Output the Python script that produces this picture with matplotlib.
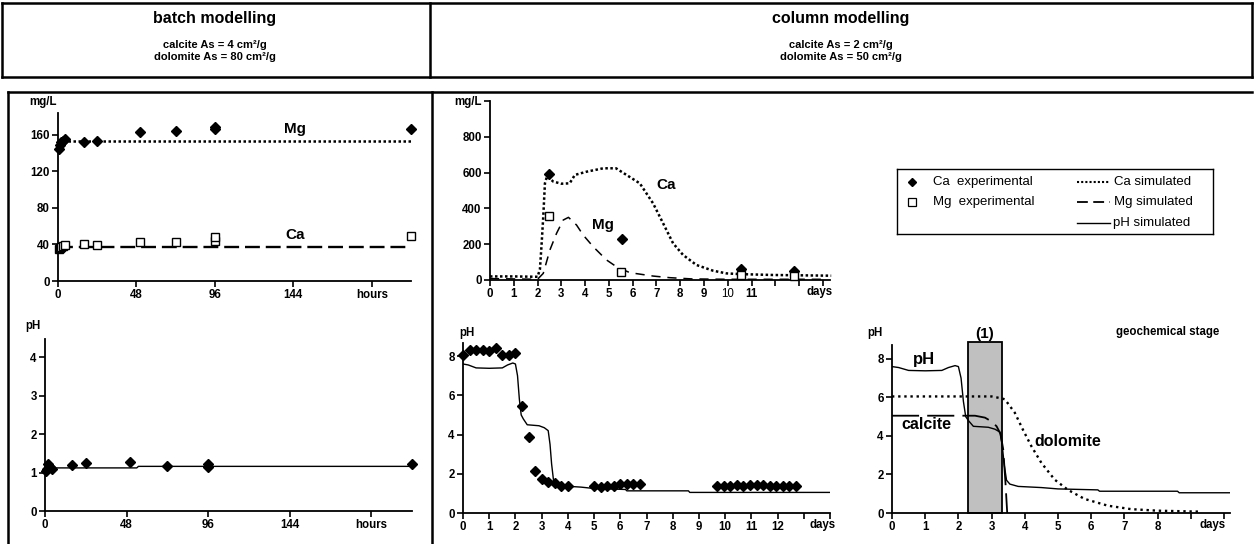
import matplotlib
matplotlib.use('Agg')
import matplotlib.pyplot as plt
from matplotlib.patches import Rectangle
from matplotlib.lines import Line2D

plt.rcParams['font.family'] = ['Liberation Sans', 'DejaVu Sans']
plt.rcParams['font.weight'] = 'bold'

# ---------------- data ----------------
# batch modelling (hours)
batch_hours = [0.5, 1, 2, 3, 4, 16, 24, 50, 72, 96, 96, 216]
batch_mg_exp = [145, 149, 152, 153, 155, 152, 153, 163, 164, 166, 169, 167]
batch_ca_exp = [35, 36, 37, 38, 39, 40, 39, 43, 43, 44, 48, 49]
batch_sim_hours = [0, 216]
batch_mg_sim = [153, 153]
batch_ca_sim = [37, 37]
batch_ph_exp = [1.03, 1.10, 1.22, 1.15, 1.10, 1.19, 1.25, 1.28, 1.17, 1.22, 1.14, 1.21]
batch_ph_sim_hours = [0, 3, 54, 55, 216]
batch_ph_sim = [1.05, 1.12, 1.12, 1.16, 1.16]
batch_x_ticks = [0, 48, 96, 144, 192]
batch_x_labels = ['0', '48', '96', '144', 'hours']
batch_conc_ticks = [0, 40, 80, 120, 160]
batch_ph_ticks = [0, 1, 2, 3, 4]

# column modelling (days)
col_ca_exp_days = [2.5, 5.55, 10.55, 12.8]
col_ca_exp = [590, 228, 60, 48]
col_mg_exp_days = [2.5, 5.5, 10.55, 12.8]
col_mg_exp = [355, 47, 30, 22]
col_ca_sim_days = [0, 1, 2.0, 2.1, 2.17, 2.24, 2.31, 2.4, 2.66, 3.0, 3.35, 3.57, 4.06,
                   4.76, 5.3, 5.74, 6.3, 6.86, 7.28, 7.7, 8.12, 8.68, 9.38, 9.94, 10.5,
                   11.9, 14.35]
col_ca_sim = [20, 20, 18, 60, 200, 354, 540, 580, 550, 538, 540, 587, 605,
              624, 624, 587, 540, 428, 317, 205, 140, 84, 52, 37, 33,
              28, 24]
col_mg_sim_days = [0, 2.0, 2.24, 2.52, 2.8, 3.08, 3.3, 3.64, 3.92, 4.34, 4.9, 5.32,
                   5.88, 6.86, 7.56, 8.5, 10, 14.2]
col_mg_sim = [8, 4, 37, 168, 261, 335, 350, 307, 251, 186, 112, 74,
              41, 22, 13, 6, 4, 4]
col_conc_ticks = [0, 200, 400, 600, 800, 1000]
col_conc_labels = ['0', '200', '400', '600', '800', 'mg/L']
col_ph_exp_days = [0, 0.25, 0.5, 0.75, 1.0, 1.25, 1.5, 1.75, 2.0, 2.25, 2.5, 2.75,
                   3.0, 3.25, 3.5, 3.75, 4.0, 5.0, 5.25, 5.5, 5.75, 6.0, 6.25, 6.5,
                   6.75, 9.7, 9.95, 10.2, 10.45, 10.7, 10.95, 11.2, 11.45, 11.7,
                   11.95, 12.2, 12.45, 12.7]
col_ph_exp = [8.05, 8.3, 8.3, 8.3, 8.25, 8.4, 8.05, 8.05, 8.15, 5.45, 3.9, 2.15,
              1.75, 1.6, 1.55, 1.38, 1.38, 1.38, 1.35, 1.38, 1.38, 1.5, 1.5, 1.5,
              1.5, 1.38, 1.38, 1.38, 1.45, 1.4, 1.45, 1.45, 1.45, 1.4,
              1.4, 1.38, 1.4, 1.38]
ph_sim_days = [0, 0.2, 0.5, 1.0, 1.5, 1.7, 1.9, 2.0, 2.08, 2.15, 2.22, 2.3, 2.45,
               2.9, 3.1, 3.25, 3.32, 3.38, 3.45, 3.55, 3.8, 4.5, 5.0, 6.2, 6.25,
               8.6, 8.65, 14.0]
ph_sim = [7.6, 7.55, 7.4, 7.38, 7.4, 7.55, 7.65, 7.6, 7.0, 5.8, 5.0, 4.8, 4.5,
          4.45, 4.35, 4.2, 3.5, 2.5, 1.7, 1.5, 1.38, 1.32, 1.25, 1.2, 1.13,
          1.13, 1.05, 1.05]
calcite_days = [0, 2.5, 2.8, 3.0, 3.15, 3.27, 3.35, 3.42, 3.47]
calcite = [5.05, 5.05, 4.95, 4.75, 4.5, 4.1, 3.3, 1.5, 0.0]
dolomite_days = [0, 3.0, 3.3, 3.4, 3.7, 3.95, 4.2, 4.5, 4.9, 5.3, 5.8, 6.5, 7.2, 8.0, 9.3]
dolomite = [6.05, 6.05, 5.95, 5.9, 5.2, 4.3, 3.46, 2.6, 1.73, 1.2, 0.73, 0.38, 0.2, 0.12, 0.07]
stage_start, stage_end, stage_top = 2.3, 3.3, 8.85
col_ph_ticks = [0, 2, 4, 6, 8]

# ---------------- layout ----------------
W, H = 1254, 544
fig = plt.figure(figsize=(W / 100, H / 100), dpi=100)


def rect(x0, yt, x1, yb):
    return [x0 / W, 1 - yb / H, (x1 - x0) / W, (yb - yt) / H]


def style(ax):
    for s in ['top', 'right']:
        ax.spines[s].set_visible(False)
    for s in ['left', 'bottom']:
        ax.spines[s].set_linewidth(1.3)
    ax.tick_params(direction='out', length=4, width=1.2, labelsize=8.3, pad=2)
    ax.patch.set_alpha(0)


DIAM = dict(marker='D', ms=5.2, color='black', ls='none', clip_on=False, zorder=5)
SQ = dict(marker='s', ms=6, mfc='white', mec='black', mew=1.0, ls='none', clip_on=False, zorder=5)

# overlay for frames and free text
ov = fig.add_axes([0, 0, 1, 1])
ov.set_xlim(0, W)
ov.set_ylim(H, 0)
ov.axis('off')
lk = dict(color='black', lw=1.8, solid_capstyle='projecting')
for seg in [((2, 1252), (3, 3)), ((2, 1252), (77, 77)), ((2, 2), (3, 77)),
            ((1252, 1252), (3, 77)), ((430, 430), (3, 77)),
            ((8, 1252), (92, 92)), ((8, 8), (92, 544)), ((432, 432), (92, 544))]:
    ov.add_line(Line2D(seg[0], seg[1], **lk))

ov.text(215, 18, 'batch modelling', ha='center', va='center', fontsize=11.5)
ov.text(215, 45, 'calcite As = 4 cm²/g', ha='center', va='center', fontsize=8)
ov.text(215, 57, 'dolomite As = 80 cm²/g', ha='center', va='center', fontsize=8)
ov.text(841, 18, 'column modelling', ha='center', va='center', fontsize=11.5)
ov.text(841, 45, 'calcite As = 2 cm²/g', ha='center', va='center', fontsize=8)
ov.text(841, 57, 'dolomite As = 50 cm²/g', ha='center', va='center', fontsize=8)

ov.text(43, 102, 'mg/L', ha='center', va='center', fontsize=8.3)
ov.text(33, 326, 'pH', ha='center', va='center', fontsize=8.3)
ov.text(467, 333, 'pH', ha='center', va='center', fontsize=8.3)
ov.text(875, 333, 'pH', ha='center', va='center', fontsize=8.3)
ov.text(1168, 332, 'geochemical stage', ha='center', va='center', fontsize=8.3)

# ---- panel 1: batch Mg / Ca ----
ax1 = fig.add_axes(rect(58, 113, 411, 281))
style(ax1)
ax1.plot(batch_sim_hours, batch_mg_sim, color='black', lw=1.8, ls=(0, (1, 1)))
ax1.plot(batch_sim_hours, batch_ca_sim, color='black', lw=1.7, ls=(0, (6.3, 2.5)))
ax1.plot(batch_hours, batch_mg_exp, **DIAM)
ax1.plot(batch_hours, batch_ca_exp, **SQ)
ax1.set_xlim(0, 216)
ax1.set_ylim(0, 184)
ax1.set_xticks(batch_x_ticks)
ax1.set_xticklabels(batch_x_labels)
ax1.set_yticks(batch_conc_ticks)
ax1.text(145, 166, 'Mg', ha='center', va='center', fontsize=11)
ax1.text(145, 50, 'Ca', ha='center', va='center', fontsize=11)

# ---- panel 2: batch pH ----
ax2 = fig.add_axes(rect(45, 339, 412, 511))
style(ax2)
ax2.plot(batch_ph_sim_hours, batch_ph_sim, color='black', lw=1.0)
ax2.plot(batch_hours, batch_ph_exp, **DIAM)
ax2.set_xlim(0, 216)
ax2.set_ylim(0, 4.47)
ax2.set_xticks(batch_x_ticks)
ax2.set_xticklabels(batch_x_labels)
ax2.set_yticks(batch_ph_ticks)

# ---- panel 3: column Ca / Mg ----
ax3 = fig.add_axes(rect(490, 101, 830, 280))
style(ax3)
ax3.plot(col_ca_sim_days, col_ca_sim, color='black', lw=1.8, ls=(0, (1, 1)), clip_on=False)
ax3.plot(col_mg_sim_days, col_mg_sim, color='black', lw=1.1, ls=(0, (6, 4.5)))
ax3.plot(col_ca_exp_days, col_ca_exp, **DIAM)
ax3.plot(col_mg_exp_days, col_mg_exp, **SQ)
ax3.set_xlim(0, 14.3)
ax3.set_ylim(0, 1000)
ax3.set_xticks(range(15))
ax3.set_xticklabels([str(i) if i <= 11 else '' for i in range(15)])
ax3.get_xticklabels()[10].set_fontweight('normal')
ax3.set_yticks(col_conc_ticks)
ax3.set_yticklabels(col_conc_labels)
ax3.text(13.85, -0.035, 'days', transform=ax3.get_xaxis_transform(),
         ha='center', va='top', fontsize=8.3)
ax3.text(7.0, 531, 'Ca', ha='left', va='center', fontsize=11)
ax3.text(4.3, 307, 'Mg', ha='left', va='center', fontsize=11)

# ---- panel 4: column pH ----
ax4 = fig.add_axes(rect(463, 343, 830, 513))
style(ax4)
ax4.plot(ph_sim_days, ph_sim, color='black', lw=1.0)
ax4.plot(col_ph_exp_days, col_ph_exp, **DIAM)
ax4.set_xlim(0, 14)
ax4.set_ylim(0, 8.67)
ax4.set_xticks(range(15))
ax4.set_xticklabels([str(i) if i <= 12 else '' for i in range(15)])
ax4.set_yticks(col_ph_ticks)
ax4.text(13.7, -0.035, 'days', transform=ax4.get_xaxis_transform(),
         ha='center', va='top', fontsize=8.3)

# ---- panel 5: geochemical stage ----
ax5 = fig.add_axes(rect(892, 345, 1230, 513))
style(ax5)
ax5.add_patch(Rectangle((stage_start, 0), stage_end - stage_start, stage_top,
                        facecolor='#c0c0c0', edgecolor='black', lw=1.3, clip_on=False, zorder=1))
ax5.plot(ph_sim_days, ph_sim, color='black', lw=1.0, zorder=3)
ax5.plot(calcite_days, calcite, color='black', lw=1.3, ls=(0, (15, 4.5)), zorder=3)
ax5.plot(dolomite_days, dolomite, color='black', lw=1.7, ls=(0, (1, 1.6)), zorder=3)
ax5.set_xlim(0, 10.18)
ax5.set_ylim(0, 8.72)
ax5.set_xticks(range(11))
ax5.set_xticklabels([str(i) if i <= 8 else '' for i in range(11)])
ax5.set_yticks(col_ph_ticks)
ax5.text(9.64, -0.035, 'days', transform=ax5.get_xaxis_transform(),
         ha='center', va='top', fontsize=8.3)
ax5.text((stage_start + stage_end) / 2, 9.3, '(1)', ha='center', va='center', fontsize=11)
ax5.text(0.95, 7.95, 'pH', ha='center', va='center', fontsize=12)
ax5.text(1.05, 4.6, 'calcite', ha='center', va='center', fontsize=11.5)
ax5.text(5.3, 3.7, 'dolomite', ha='center', va='center', fontsize=11.5)

# ---- legend (drawn by hand) ----
lg = fig.add_axes(rect(897, 169, 1213, 234))
lg.set_xlim(0, 316)
lg.set_ylim(65, 0)
lg.set_xticks([])
lg.set_yticks([])
for s in lg.spines.values():
    s.set_linewidth(1.0)
lg.plot([15], [13], marker='D', ms=4.5, color='black', ls='none')
lg.plot([15], [33], marker='s', ms=5.5, mfc='white', mec='black', mew=0.9, ls='none')
lg.text(36, 13, 'Ca  experimental', ha='left', va='center', fontsize=9.5, fontweight='normal')
lg.text(36, 33, 'Mg  experimental', ha='left', va='center', fontsize=9.5, fontweight='normal')
lg.plot([180, 212], [13, 13], color='black', lw=1.5, ls=(0, (1, 1)))
lg.plot([180, 213], [33, 33], color='black', lw=1.3, ls=(0, (6, 3)))
lg.plot([180, 213], [54, 54], color='black', lw=1.0)
lg.text(217, 13, 'Ca simulated', ha='left', va='center', fontsize=9.5, fontweight='normal')
lg.text(217, 33, 'Mg simulated', ha='left', va='center', fontsize=9.5, fontweight='normal')
lg.text(216, 54, 'pH simulated', ha='left', va='center', fontsize=9.5, fontweight='normal')

fig.savefig('out.png', dpi=100)
